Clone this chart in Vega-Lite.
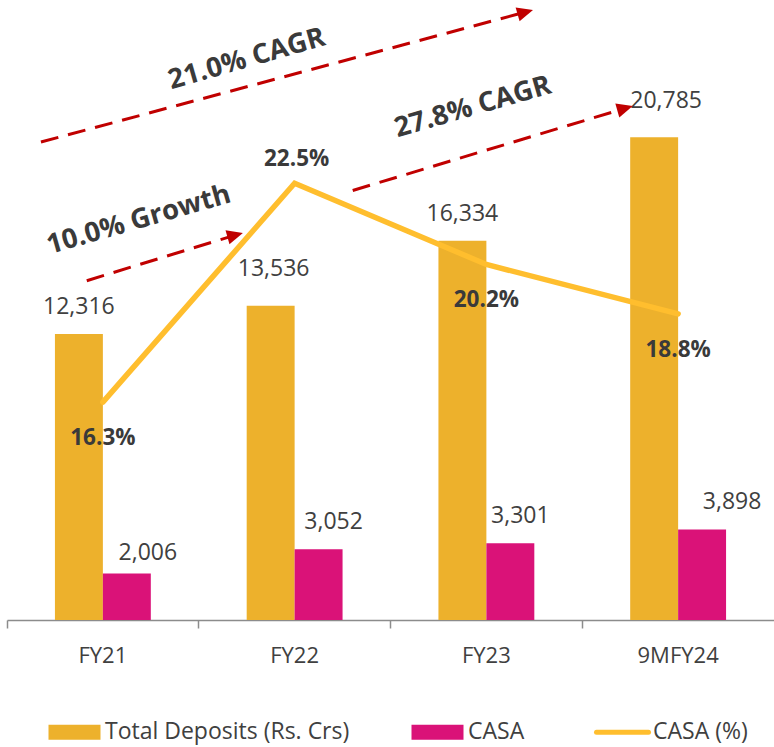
{
  "$schema": "https://vega.github.io/schema/vega-lite/v6.json",
  "width": 767,
  "height": 620,
  "autosize": {"type": "none"},
  "padding": {"left": 7, "top": 0, "right": 0, "bottom": 127},
  "config": {"view": {"stroke": null}, "font": "Open Sans"},
  "datasets": {
    "deposits": [
      {"year": "FY21", "series": "Total Deposits (Rs. Crs)", "value": 12316},
      {"year": "FY21", "series": "CASA", "value": 2006},
      {"year": "FY22", "series": "Total Deposits (Rs. Crs)", "value": 13536},
      {"year": "FY22", "series": "CASA", "value": 3052},
      {"year": "FY23", "series": "Total Deposits (Rs. Crs)", "value": 16334},
      {"year": "FY23", "series": "CASA", "value": 3301},
      {"year": "9MFY24", "series": "Total Deposits (Rs. Crs)", "value": 20785},
      {"year": "9MFY24", "series": "CASA", "value": 3898}
    ],
    "casa": [
      {"year": "FY21", "pct": 16.3},
      {"year": "FY22", "pct": 22.5},
      {"year": "FY23", "pct": 20.2},
      {"year": "9MFY24", "pct": 18.8}
    ],
    "arrows": [
      {"name": "A", "x": 0.177, "y": 20585, "x2": 2.703, "y2": 26179},
      {"name": "B", "x": 0.416, "y": 14612, "x2": 1.19, "y2": 16576},
      {"name": "C", "x": 1.803, "y": 18496, "x2": 3.223, "y2": 22036}
    ],
    "notes": [
      {"text": "21.0% CAGR", "x": 1.262, "y": 23815},
      {"text": "10.0% Growth", "x": 0.699, "y": 16881},
      {"text": "27.8% CAGR", "x": 2.441, "y": 21748}
    ]
  },
  "resolve": {"scale": {"x": "independent", "y": "independent"}},
  "layer": [
    {
      "data": {"name": "deposits"},
      "mark": {"type": "bar"},
      "encoding": {
        "x": {"field": "year", "type": "nominal",
          "scale": {"domain": ["FY21", "FY22", "FY23", "9MFY24"], "paddingInner": 0, "paddingOuter": 0},
          "axis": {"title": null, "labelAngle": 0, "labelFont": "Open Sans", "labelFontSize": 22, "labelColor": "#404040",
            "domainColor": "#8c8c8c", "domainWidth": 1.5, "tickColor": "#8c8c8c", "tickWidth": 1.5, "tickSize": 8,
            "bandPosition": 0, "labelPadding": 17, "grid": false}},
        "xOffset": {"field": "series", "type": "nominal",
          "scale": {"domain": ["Total Deposits (Rs. Crs)", "CASA"], "paddingInner": 0, "paddingOuter": 1.084}},
        "y": {"field": "value", "type": "quantitative", "scale": {"domain": [0, 26700], "nice": false}, "axis": null},
        "color": {"field": "series", "type": "nominal",
          "scale": {"domain": ["Total Deposits (Rs. Crs)", "CASA", "CASA (%)"], "range": ["#EDB12C", "#DA1278", "#FFBE2E"]},
          "legend": {"orient": "none", "legendX": 56, "legendY": 720.5, "direction": "horizontal", "columns": 3,
            "columnPadding": 61, "title": null, "symbolSize": 2704, "labelFont": "Open Sans", "labelFontSize": 23,
            "labelColor": "#404040", "labelOffset": 19, "labelLimit": 400, "padding": 0,
            "encode": {"symbols": {"update": {
              "shape": {"signal": "datum.value === 'CASA (%)' ? 'M-1,0H1' : 'M-1,-0.288H1V0.288H-1Z'"},
              "fill": {"signal": "datum.value === 'CASA (%)' ? 'transparent' : scale('color', datum.value)"},
              "stroke": {"signal": "scale('color', datum.value)"},
              "strokeWidth": {"signal": "datum.value === 'CASA (%)' ? 5 : 0"},
              "strokeCap": {"value": "round"},
              "opacity": {"value": 1}
            }}}}
        }
      }
    },
    {
      "data": {"name": "deposits"},
      "transform": [{"filter": "datum.series === 'Total Deposits (Rs. Crs)' && (datum.year === 'FY21' || datum.year === 'FY23')"}],
      "mark": {"type": "text", "fontSize": 23, "color": "#404040", "baseline": "middle", "dy": -27},
      "encoding": {
        "x": {"field": "year", "type": "nominal", "scale": {"domain": ["FY21", "FY22", "FY23", "9MFY24"], "paddingInner": 0, "paddingOuter": 0}, "axis": null},
        "xOffset": {"field": "series", "type": "nominal", "scale": {"domain": ["Total Deposits (Rs. Crs)", "CASA"], "paddingInner": 0, "paddingOuter": 1.084}},
        "y": {"field": "value", "type": "quantitative", "scale": {"domain": [0, 26700], "nice": false}, "axis": null},
        "text": {"field": "value", "type": "quantitative", "format": ","}
      }
    },
    {
      "data": {"name": "deposits"},
      "transform": [{"filter": "datum.series === 'Total Deposits (Rs. Crs)' && datum.year === 'FY22'"}],
      "mark": {"type": "text", "fontSize": 23, "color": "#404040", "baseline": "middle", "dy": -37, "dx": 3},
      "encoding": {
        "x": {"field": "year", "type": "nominal", "scale": {"domain": ["FY21", "FY22", "FY23", "9MFY24"], "paddingInner": 0, "paddingOuter": 0}, "axis": null},
        "xOffset": {"field": "series", "type": "nominal", "scale": {"domain": ["Total Deposits (Rs. Crs)", "CASA"], "paddingInner": 0, "paddingOuter": 1.084}},
        "y": {"field": "value", "type": "quantitative", "scale": {"domain": [0, 26700], "nice": false}, "axis": null},
        "text": {"field": "value", "type": "quantitative", "format": ","}
      }
    },
    {
      "data": {"name": "deposits"},
      "transform": [{"filter": "datum.series === 'Total Deposits (Rs. Crs)' && datum.year === '9MFY24'"}],
      "mark": {"type": "text", "fontSize": 23, "color": "#404040", "baseline": "middle", "dy": -36, "dx": 12},
      "encoding": {
        "x": {"field": "year", "type": "nominal", "scale": {"domain": ["FY21", "FY22", "FY23", "9MFY24"], "paddingInner": 0, "paddingOuter": 0}, "axis": null},
        "xOffset": {"field": "series", "type": "nominal", "scale": {"domain": ["Total Deposits (Rs. Crs)", "CASA"], "paddingInner": 0, "paddingOuter": 1.084}},
        "y": {"field": "value", "type": "quantitative", "scale": {"domain": [0, 26700], "nice": false}, "axis": null},
        "text": {"field": "value", "type": "quantitative", "format": ","}
      }
    },
    {
      "data": {"name": "deposits"},
      "transform": [{"filter": "datum.series === 'CASA' && datum.year === 'FY21'"}],
      "mark": {"type": "text", "fontSize": 23, "color": "#404040", "baseline": "middle", "dy": -20, "dx": 21},
      "encoding": {
        "x": {"field": "year", "type": "nominal", "scale": {"domain": ["FY21", "FY22", "FY23", "9MFY24"], "paddingInner": 0, "paddingOuter": 0}, "axis": null},
        "xOffset": {"field": "series", "type": "nominal", "scale": {"domain": ["Total Deposits (Rs. Crs)", "CASA"], "paddingInner": 0, "paddingOuter": 1.084}},
        "y": {"field": "value", "type": "quantitative", "scale": {"domain": [0, 26700], "nice": false}, "axis": null},
        "text": {"field": "value", "type": "quantitative", "format": ","}
      }
    },
    {
      "data": {"name": "deposits"},
      "transform": [{"filter": "datum.series === 'CASA' && datum.year === 'FY22'"}],
      "mark": {"type": "text", "fontSize": 23, "color": "#404040", "baseline": "middle", "dy": -27, "dx": 15},
      "encoding": {
        "x": {"field": "year", "type": "nominal", "scale": {"domain": ["FY21", "FY22", "FY23", "9MFY24"], "paddingInner": 0, "paddingOuter": 0}, "axis": null},
        "xOffset": {"field": "series", "type": "nominal", "scale": {"domain": ["Total Deposits (Rs. Crs)", "CASA"], "paddingInner": 0, "paddingOuter": 1.084}},
        "y": {"field": "value", "type": "quantitative", "scale": {"domain": [0, 26700], "nice": false}, "axis": null},
        "text": {"field": "value", "type": "quantitative", "format": ","}
      }
    },
    {
      "data": {"name": "deposits"},
      "transform": [{"filter": "datum.series === 'CASA' && datum.year === 'FY23'"}],
      "mark": {"type": "text", "fontSize": 23, "color": "#404040", "baseline": "middle", "dy": -27, "dx": 10},
      "encoding": {
        "x": {"field": "year", "type": "nominal", "scale": {"domain": ["FY21", "FY22", "FY23", "9MFY24"], "paddingInner": 0, "paddingOuter": 0}, "axis": null},
        "xOffset": {"field": "series", "type": "nominal", "scale": {"domain": ["Total Deposits (Rs. Crs)", "CASA"], "paddingInner": 0, "paddingOuter": 1.084}},
        "y": {"field": "value", "type": "quantitative", "scale": {"domain": [0, 26700], "nice": false}, "axis": null},
        "text": {"field": "value", "type": "quantitative", "format": ","}
      }
    },
    {
      "data": {"name": "deposits"},
      "transform": [{"filter": "datum.series === 'CASA' && datum.year === '9MFY24'"}],
      "mark": {"type": "text", "fontSize": 23, "color": "#404040", "baseline": "middle", "dy": -27, "dx": 30},
      "encoding": {
        "x": {"field": "year", "type": "nominal", "scale": {"domain": ["FY21", "FY22", "FY23", "9MFY24"], "paddingInner": 0, "paddingOuter": 0}, "axis": null},
        "xOffset": {"field": "series", "type": "nominal", "scale": {"domain": ["Total Deposits (Rs. Crs)", "CASA"], "paddingInner": 0, "paddingOuter": 1.084}},
        "y": {"field": "value", "type": "quantitative", "scale": {"domain": [0, 26700], "nice": false}, "axis": null},
        "text": {"field": "value", "type": "quantitative", "format": ","}
      }
    },
    {
      "data": {"name": "casa"},
      "mark": {"type": "line", "strokeWidth": 5.5, "strokeCap": "round", "strokeJoin": "miter"},
      "encoding": {
        "x": {"field": "year", "type": "nominal", "scale": {"domain": ["FY21", "FY22", "FY23", "9MFY24"], "paddingInner": 0, "paddingOuter": 0}, "axis": null},
        "y": {"field": "pct", "type": "quantitative", "scale": {"domain": [10.13, 27.69], "nice": false, "zero": false}, "axis": null},
        "color": {"datum": "CASA (%)"}
      }
    },
    {
      "data": {"name": "casa"},
      "transform": [{"filter": "datum.year !== 'FY22'"}, {"calculate": "format(datum.pct, '.1f') + '%'", "as": "label"}],
      "mark": {"type": "text", "fontSize": 22.5, "fontWeight": "bold", "color": "#3a3a3a", "baseline": "middle", "dy": 36},
      "encoding": {
        "x": {"field": "year", "type": "nominal", "scale": {"domain": ["FY21", "FY22", "FY23", "9MFY24"], "paddingInner": 0, "paddingOuter": 0}, "axis": null},
        "y": {"field": "pct", "type": "quantitative", "scale": {"domain": [10.13, 27.69], "nice": false, "zero": false}, "axis": null},
        "text": {"field": "label"}
      }
    },
    {
      "data": {"name": "casa"},
      "transform": [{"filter": "datum.year === 'FY22'"}, {"calculate": "format(datum.pct, '.1f') + '%'", "as": "label"}],
      "mark": {"type": "text", "fontSize": 22.5, "fontWeight": "bold", "color": "#3a3a3a", "baseline": "middle", "dy": -24, "dx": 2},
      "encoding": {
        "x": {"field": "year", "type": "nominal", "scale": {"domain": ["FY21", "FY22", "FY23", "9MFY24"], "paddingInner": 0, "paddingOuter": 0}, "axis": null},
        "y": {"field": "pct", "type": "quantitative", "scale": {"domain": [10.13, 27.69], "nice": false, "zero": false}, "axis": null},
        "text": {"field": "label"}
      }
    },
    {
      "data": {"name": "arrows"},
      "mark": {"type": "rule", "color": "#C00000", "strokeWidth": 3, "strokeDash": [18, 10]},
      "encoding": {
        "x": {"field": "x", "type": "quantitative", "scale": {"domain": [0, 4], "nice": false, "zero": false}, "axis": null},
        "y": {"field": "y", "type": "quantitative", "scale": {"domain": [0, 26700], "nice": false}, "axis": null},
        "x2": {"field": "x2"},
        "y2": {"field": "y2"}
      }
    },
    {
      "data": {"name": "arrows"},
      "mark": {"type": "point", "shape": "M1,0L-1,-0.9L-1,0.9Z", "filled": true, "size": 256, "angle": -16, "color": "#C00000", "opacity": 1},
      "encoding": {
        "x": {"field": "x2", "type": "quantitative", "scale": {"domain": [0, 4], "nice": false, "zero": false}, "axis": null},
        "y": {"field": "y2", "type": "quantitative", "scale": {"domain": [0, 26700], "nice": false}, "axis": null}
      }
    },
    {
      "data": {"name": "notes"},
      "mark": {"type": "text", "fontSize": 27.5, "fontWeight": "bold", "color": "#3a3a3a", "angle": -16, "align": "center", "baseline": "alphabetic"},
      "encoding": {
        "x": {"field": "x", "type": "quantitative", "scale": {"domain": [0, 4], "nice": false, "zero": false}, "axis": null},
        "y": {"field": "y", "type": "quantitative", "scale": {"domain": [0, 26700], "nice": false}, "axis": null},
        "text": {"field": "text"}
      }
    }
  ]
}
